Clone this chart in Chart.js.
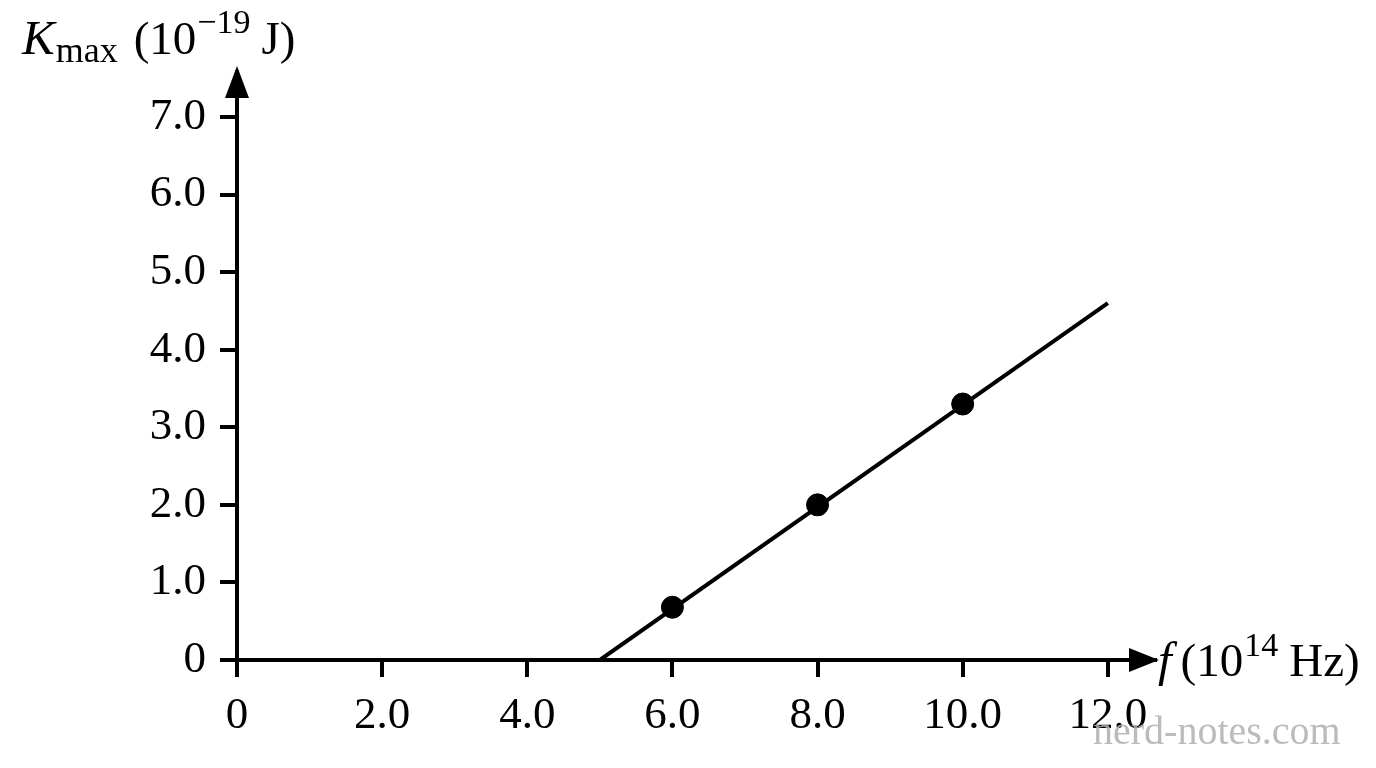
<!DOCTYPE html>
<html>
<head>
<meta charset="utf-8">
<script src="https://cdn.jsdelivr.net/npm/chart.js@4"></script>
<style>
  html, body { margin: 0; padding: 0; background: #fff; }
  #wrap { width: 1376px; height: 768px; }
</style>
</head>
<body>
<div id="wrap"><canvas id="myChart"></canvas></div>
<script>
"use strict";

// Mätpunkter (frekvens i 10^14 Hz, Kmax i 10^-19 J)
const pointFreq = [6.0, 8.0, 10.0];
const pointKmax = [0.68, 2.0, 3.3];

// Anpassad linje: start- och slutpunkt
const lineFreq = [5.0, 12.0];
const lineKmax = [0, 4.6];

// Skalstreck och deras etiketter
const xTicks = [0, 2, 4, 6, 8, 10, 12];
const xTickLabels = ['0', '2.0', '4.0', '6.0', '8.0', '10.0', '12.0'];
const yTicks = [0, 1, 2, 3, 4, 5, 6, 7];
const yTickLabels = ['0', '1.0', '2.0', '3.0', '4.0', '5.0', '6.0', '7.0'];

const serif = '"Liberation Serif", "DejaVu Serif", serif';

// Ritar pilar och axeltitlar
const axisExtras = {
    id: 'axisExtras',
    afterDraw(chart) {
        const ctx = chart.ctx;
        const a = chart.chartArea;
        const x0 = chart.scales.x.getPixelForValue(0);
        const y0 = chart.scales.y.getPixelForValue(0);
        ctx.save();
        ctx.fillStyle = '#000';
        // pil på y-axeln
        ctx.beginPath();
        ctx.moveTo(x0, a.top - 6);
        ctx.lineTo(x0 - 12, a.top + 26);
        ctx.lineTo(x0 + 12, a.top + 26);
        ctx.closePath();
        ctx.fill();
        // pil på x-axeln
        ctx.beginPath();
        ctx.moveTo(a.right + 4, y0);
        ctx.lineTo(a.right - 26, y0 - 12);
        ctx.lineTo(a.right - 26, y0 + 12);
        ctx.closePath();
        ctx.fill();

        ctx.textBaseline = 'alphabetic';
        ctx.textAlign = 'left';
        // y-titel: K_max (10^-19 J)
        let x = 22;
        ctx.font = 'italic 49px ' + serif;
        ctx.fillText('K', x, 54);
        x += ctx.measureText('K').width + 1;
        ctx.font = '36px ' + serif;
        ctx.fillText('max', x, 62);
        x += ctx.measureText('max').width + 16;
        ctx.font = '47px ' + serif;
        ctx.fillText('(10', x, 54);
        x += ctx.measureText('(10').width + 1;
        ctx.font = '34px ' + serif;
        ctx.fillText('\u221219', x, 33);
        x += ctx.measureText('\u221219').width + 11;
        ctx.font = '47px ' + serif;
        ctx.fillText('J)', x, 54);

        // x-titel: f (10^14 Hz)
        x = 1158;
        const by = y0 + 16;
        ctx.font = 'italic 49px ' + serif;
        ctx.fillText('f', x, by);
        x += ctx.measureText('f').width + 9;
        ctx.font = '47px ' + serif;
        ctx.fillText('(10', x, by);
        x += ctx.measureText('(10').width + 1;
        ctx.font = '34px ' + serif;
        ctx.fillText('14', x, by - 20);
        x += ctx.measureText('14').width + 11;
        ctx.font = '47px ' + serif;
        ctx.fillText('Hz)', x, by);

        // vattenstämpel
        ctx.font = '40px ' + serif;
        ctx.fillStyle = 'rgba(175,175,175,0.85)';
        ctx.fillText('nerd-notes.com', 1093, 744);
        ctx.restore();
    }
};

new Chart(document.getElementById('myChart'), {
    type: 'scatter',
    data: {
        datasets: [{
            type: 'line',
            data: lineFreq.map((f, i) => ({ x: f, y: lineKmax[i] })),
            borderColor: '#000',
            borderWidth: 4,
            pointRadius: 0,
            fill: false
        }, {
            data: pointFreq.map((f, i) => ({ x: f, y: pointKmax[i] })),
            backgroundColor: '#000',
            borderColor: '#000',
            pointRadius: 11,
            pointHoverRadius: 11
        }]
    },
    options: {
        responsive: true,
        maintainAspectRatio: false,
        animation: false,
        events: [],
        layout: { padding: { left: 0, top: 72, right: 221, bottom: 0 } },
        plugins: {
            legend: { display: false },
            tooltip: { enabled: false }
        },
        scales: {
            x: {
                type: 'linear',
                min: 0,
                max: 12.65,
                afterBuildTicks: scale => { scale.ticks = xTicks.map(v => ({ value: v })); },
                afterFit: scale => { scale.height = 108; },
                ticks: {
                    color: '#000',
                    padding: 12,
                    maxRotation: 0,
                    font: { family: serif, size: 45 },
                    callback: value => xTickLabels[xTicks.indexOf(value)]
                },
                grid: {
                    drawOnChartArea: false,
                    color: '#000',
                    lineWidth: 4,
                    tickLength: 17
                },
                border: { display: true, color: '#000', width: 4 }
            },
            y: {
                type: 'linear',
                min: 0,
                max: 7.58,
                afterBuildTicks: scale => { scale.ticks = yTicks.map(v => ({ value: v })); },
                afterFit: scale => { scale.width = 237; },
                ticks: {
                    color: '#000',
                    padding: 14,
                    font: { family: serif, size: 45 },
                    callback: value => yTickLabels[yTicks.indexOf(value)]
                },
                grid: {
                    drawOnChartArea: false,
                    color: '#000',
                    lineWidth: 4,
                    tickLength: 17
                },
                border: { display: true, color: '#000', width: 4 }
            }
        }
    },
    plugins: [axisExtras]
});
</script>
</body>
</html>
